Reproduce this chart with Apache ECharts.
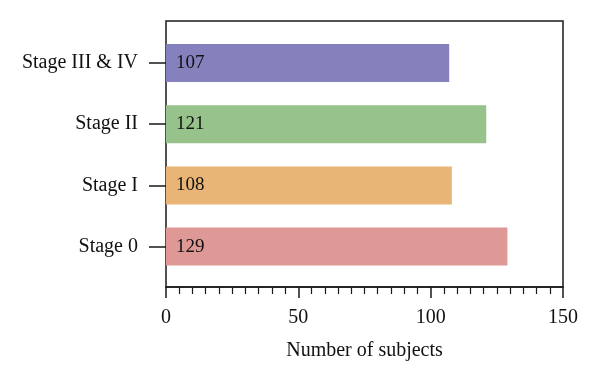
<!DOCTYPE html>
<html><head><meta charset="utf-8">
<script src="https://cdn.jsdelivr.net/npm/echarts@6/dist/echarts.min.js"></script>
<style>html,body{margin:0;padding:0;background:#fff}#c{width:600px;height:381px}</style>
</head><body><div id="c"></div>
<script>
var categories = ['Stage 0', 'Stage I', 'Stage II', 'Stage III & IV'];
var values = [129, 108, 121, 107];
var barColors = ['#de9896', '#e8b577', '#97c28b', '#8581bc'];
var xTicks = [0, 50, 100, 150];
var xName = 'Number of subjects';
var FONT = '"Liberation Serif", "Times New Roman", serif';

var chart = echarts.init(document.getElementById('c'), null, {renderer: 'canvas'});
chart.setOption({
  animation: false,
  grid: [
    {left: 166, right: 37, top: 21, bottom: 94, show: true, borderColor: '#1a1a1a', borderWidth: 1.5, backgroundColor: 'transparent'},
    {left: 166, right: 37, top: 32.4, height: 244.8}
  ],
  xAxis: [
    {gridIndex: 0, type: 'value', min: xTicks[0], max: xTicks[xTicks.length-1], interval: 50,
     axisLine: {show: true, lineStyle: {color: '#1a1a1a', width: 1.5}},
     axisTick: {show: true, length: 11, lineStyle: {color: '#1a1a1a', width: 1.5}},
     minorTick: {show: true, splitNumber: 10, length: 7, lineStyle: {color: '#1a1a1a', width: 1.2}},
     splitLine: {show: false},
     axisLabel: {color: '#111', fontFamily: FONT, fontSize: 20, margin: 21},
     name: xName, nameLocation: 'middle', nameGap: 54,
     nameTextStyle: {color: '#111', fontFamily: FONT, fontSize: 20}},
    {gridIndex: 1, type: 'value', min: 0, max: 150, show: false}
  ],
  yAxis: [
    {gridIndex: 0, type: 'value', show: false},
    {gridIndex: 1, type: 'category', data: categories,
     axisLine: {show: false},
     axisTick: {show: true, alignWithLabel: true, length: 17, lineStyle: {color: '#1a1a1a', width: 1.5}},
     axisLabel: {color: '#111', fontFamily: FONT, fontSize: 20, margin: 28}}
  ],
  series: [{
    type: 'bar', xAxisIndex: 1, yAxisIndex: 1, barWidth: 38,
    data: values.map(function(v, i){ return {value: v, itemStyle: {color: barColors[i]}}; }),
    label: {show: true, position: 'insideLeft', distance: 10, color: '#111', fontFamily: FONT, fontSize: 19}
  }]
});
</script></body></html>
